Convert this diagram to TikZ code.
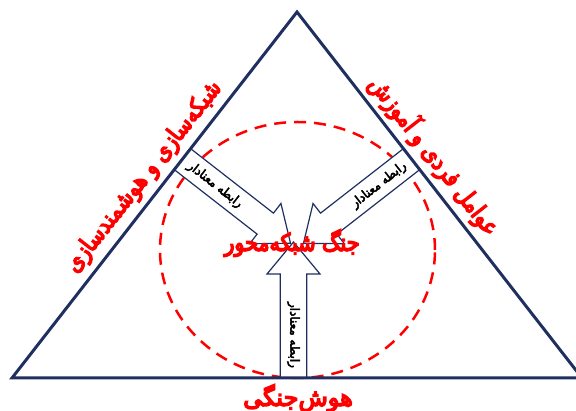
\documentclass[tikz,border=0pt]{standalone}
\usepackage{fontspec}
\newfontfamily\arabicred[Script=Arabic, FakeBold=6, FakeStretch=0.86]{DejaVu Sans}
\newfontfamily\arabicwide[Script=Arabic, FakeBold=6, FakeStretch=1.0]{DejaVu Sans}
\newfontfamily\arabicsmall[Script=Arabic, FakeBold=4, FakeStretch=0.95]{DejaVu Sans}
\TeXXeTstate=1
\definecolor{navy}{HTML}{1F3060}
\begin{document}
\begin{tikzpicture}[x=1pt,y=1pt,
  tri/.style={draw=navy, line width=3pt, line join=miter},
  ring/.style={draw=red, line width=2.5pt, dash pattern=on 12pt off 8pt},
  blockarrow/.style={draw=navy, line width=1.2pt, fill=white, line join=miter},
  redlabel/.style={text=red, font=\arabicred\fontsize{24}{26}\selectfont, inner sep=0pt},
  arrowlabel/.style={text=black, font=\arabicsmall\fontsize{12.5}{13}\selectfont, inner sep=0pt}]
\useasboundingbox (0,0) rectangle (576,-411);
\coordinate (A) at (12,-378);
\coordinate (B) at (297,-12);
\coordinate (C) at (582,-378);
\draw[ring] (297.5,-250) ellipse [x radius=137.5, y radius=128];
\path (A) -- (B) coordinate[pos=0.598] (sl);
\path (C) -- (B) coordinate[pos=0.598] (sr);
\coordinate (sb) at (293.5,-378);
\draw[blockarrow, shift={(sl)}, rotate=-37.9] (0,13.3) -- (105,13.3) -- (105,25.5) -- (137,0) -- (105,-25.5) -- (105,-13.3) -- (0,-13.3) -- cycle;
\draw[blockarrow, shift={(sr)}, rotate=-142.1] (0,13.3) -- (105,13.3) -- (105,25.5) -- (137,0) -- (105,-25.5) -- (105,-13.3) -- (0,-13.3) -- cycle;
\draw[blockarrow, shift={(sb)}, rotate=90] (0,13.3) -- (104,13.3) -- (104,26.5) -- (136,0) -- (104,-26.5) -- (104,-13.3) -- (0,-13.3) -- cycle;
\draw[tri] (A) -- (B) -- (C) -- cycle;
\node[redlabel, rotate=51.7] (lefttxt) at (144,-177) {\beginR شبکه‌سازی و هوشمندسازی\endR};
\node[redlabel, rotate=-52] (righttxt) at (434.5,-155.5) {\beginR عوامل فردی و آموزش\endR};
\node[redlabel] (center) at (292,-243) {\beginR جنگ شبکه‌محور\endR};
\node[redlabel, font=\arabicwide\fontsize{24}{26}\selectfont] (bottom) at (298,-398) {\beginR هوش‌جنگی\endR};
\node[arrowlabel, rotate=-38] (lbl1) at (215,-185) {\beginR رابطه معنادار\endR};
\node[arrowlabel, rotate=38] (lbl2) at (379,-185) {\beginR رابطه معنادار\endR};
\node[arrowlabel, rotate=-90] (lbl3) at (293.5,-335) {\beginR رابطه معنادار\endR};
\end{tikzpicture}
\end{document}
